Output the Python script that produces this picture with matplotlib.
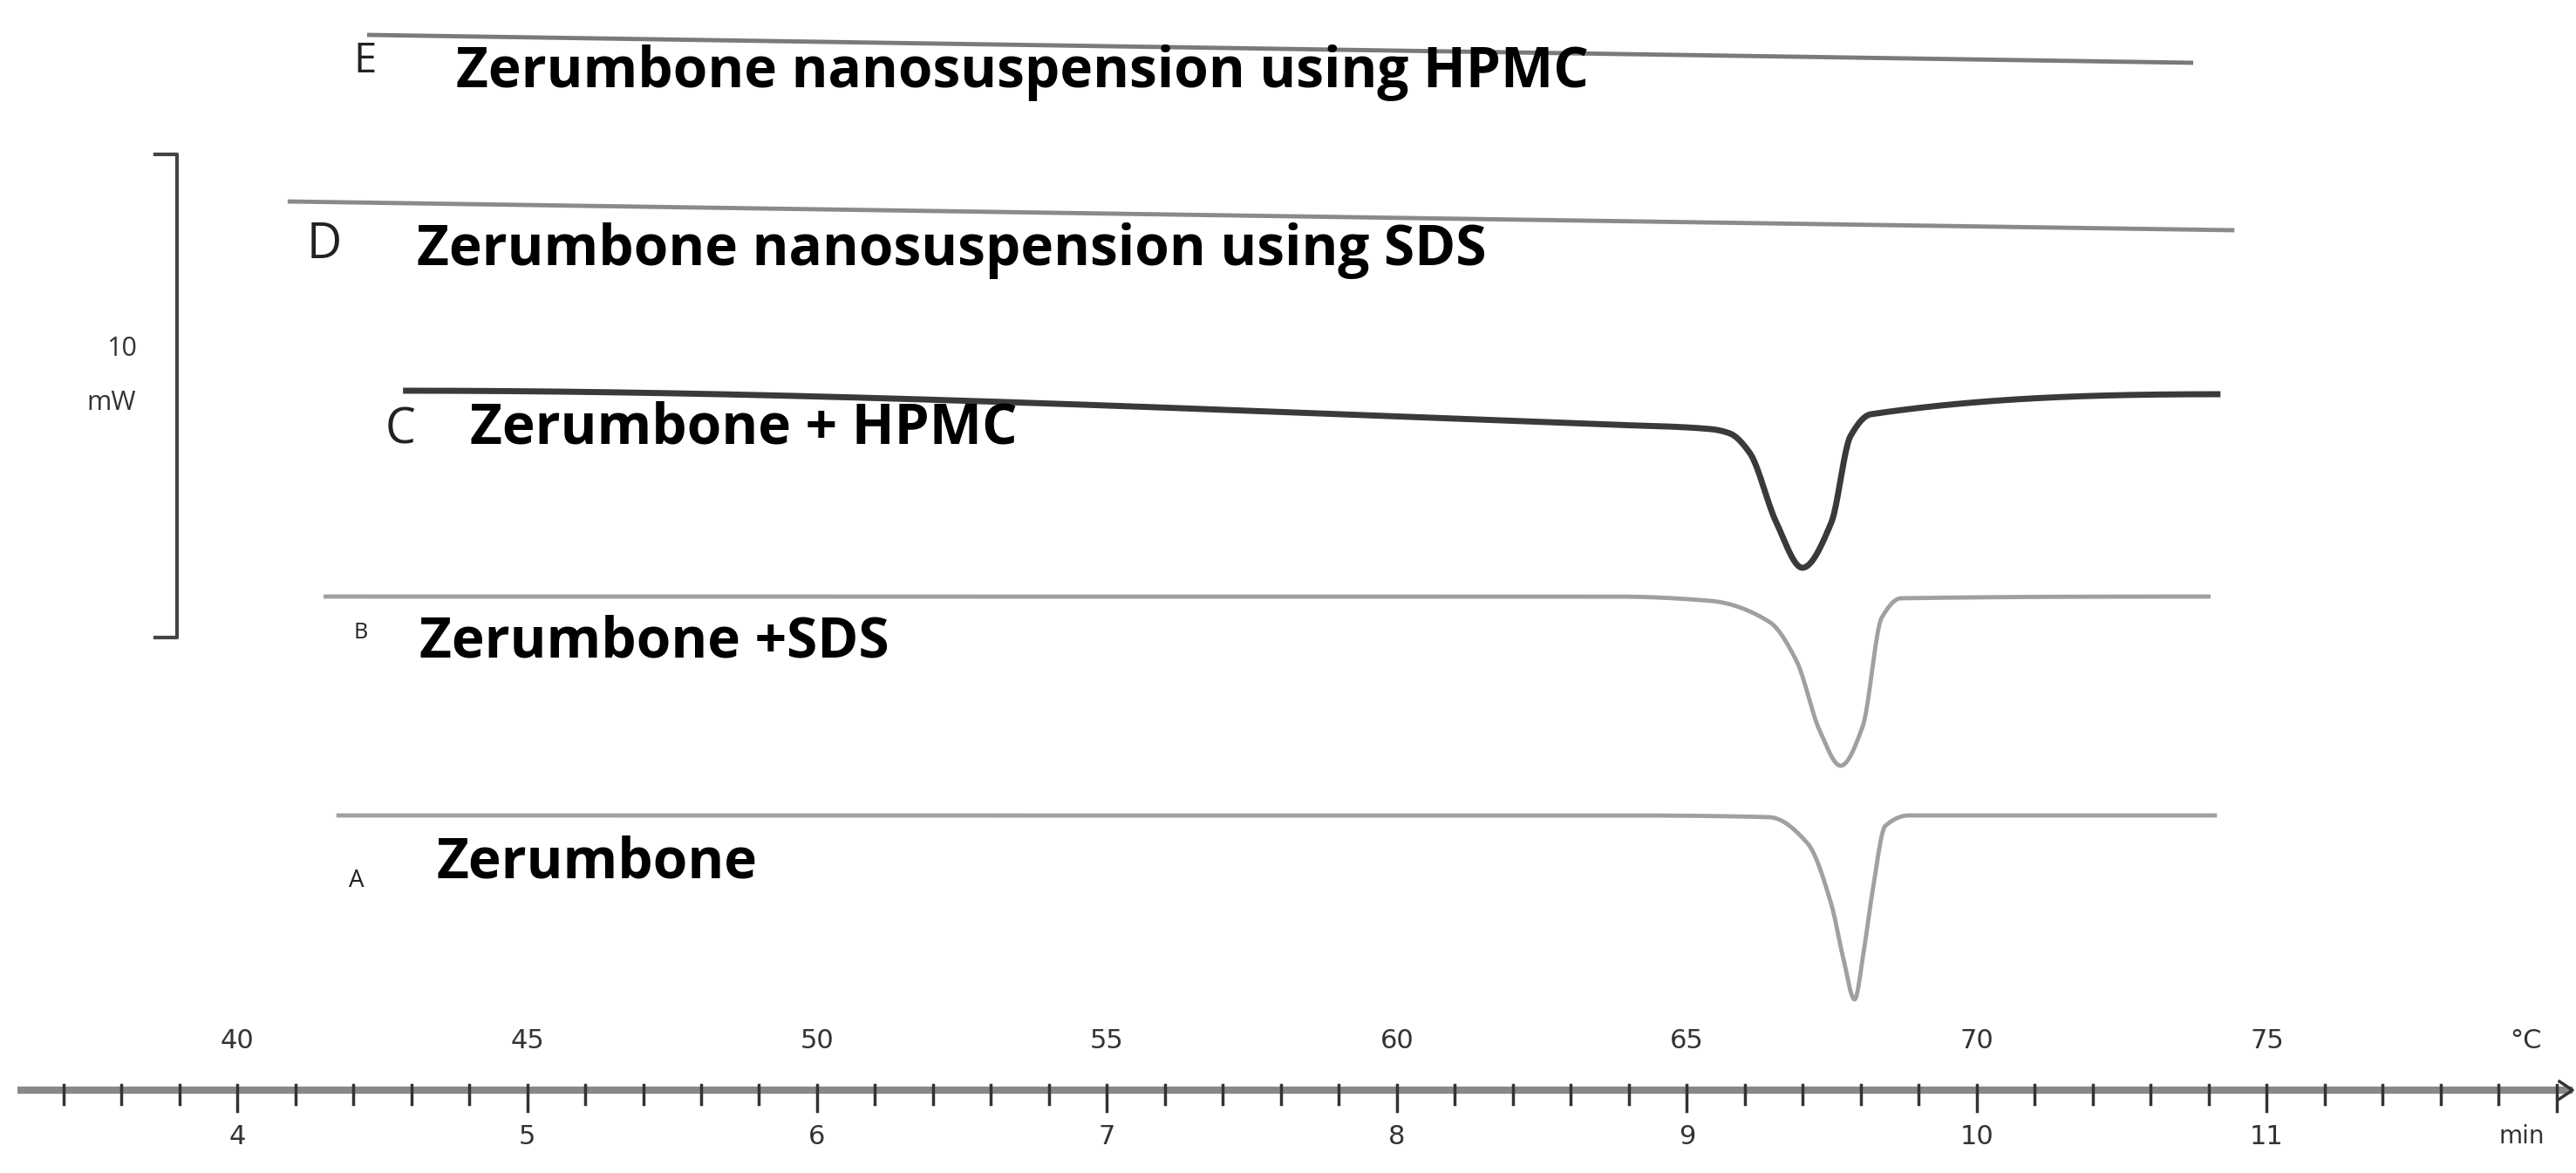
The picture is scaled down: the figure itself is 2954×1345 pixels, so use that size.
import matplotlib
matplotlib.use("Agg")
import matplotlib.pyplot as plt
import numpy as np

# temperature (°C) and trace position (image-like vertical units, downwards = endothermic)
A_T = [41.71, 63.73, 66.42, 67.08, 67.49, 67.70, 67.89, 68.05, 68.20, 68.42, 68.83, 74.14]
A_y = [935, 935, 937, 967, 1037, 1100, 1146, 1090, 1022, 947, 935, 935]
B_T = [41.49, 63.73, 65.41, 66.42, 66.89, 67.29, 67.65, 68.03, 68.36, 68.69, 74.03]
B_y = [684, 684, 689, 713, 758, 838, 878, 833, 708, 686, 684]
C_T = [42.86, 63.73, 65.41, 65.74, 66.08, 66.54, 66.99, 67.49, 67.82, 68.17, 74.20]
C_y = [448, 487, 492, 497, 519, 599, 651, 599, 500, 475, 452]
D_T = [40.87, 74.44]
D_y = [231, 264]
E_T = [42.24, 73.73]
E_y = [40, 72]

temp_labels = [40, 45, 50, 55, 60, 65, 70, 75]
min_labels = [4, 5, 6, 7, 8, 9, 10, 11]

def px2T(x):
    return 40 + (x - 272) / 66.5

fig = plt.figure(figsize=(29.54, 13.45), dpi=100)
ax = fig.add_axes([0, 0, 1, 1])
ax.set_xlim(px2T(0), px2T(2954))
ax.set_ylim(1345, 0)
ax.axis("off")

def pchip(T, y, n=2000):
    x = np.asarray(T, float); y = np.asarray(y, float)
    if len(x) < 3:
        return x, y
    h = np.diff(x); d = np.diff(y) / h
    m = np.zeros_like(y)
    for k in range(1, len(x) - 1):
        if d[k-1] * d[k] > 0:
            w1 = 2*h[k] + h[k-1]; w2 = h[k] + 2*h[k-1]
            m[k] = (w1 + w2) / (w1/d[k-1] + w2/d[k])
    m[0] = 0; m[-1] = 0
    xs = np.linspace(x[0], x[-1], n)
    idx = np.clip(np.searchsorted(x, xs) - 1, 0, len(x) - 2)
    t = (xs - x[idx]) / h[idx]
    h00 = 2*t**3 - 3*t**2 + 1; h10 = t**3 - 2*t**2 + t
    h01 = -2*t**3 + 3*t**2; h11 = t**3 - t**2
    ys = h00*y[idx] + h10*h[idx]*m[idx] + h01*y[idx+1] + h11*h[idx]*m[idx+1]
    return xs, ys

for T, y, c, lw in [(A_T, A_y, "#a0a0a0", 3.5), (B_T, B_y, "#a0a0a0", 3.5),
                    (C_T, C_y, "#3a3a3a", 5), (D_T, D_y, "#8a8a8a", 3.5),
                    (E_T, E_y, "#7a7a7a", 3.5)]:
    xs, ys = pchip(T, y)
    ax.plot(xs, ys, color=c, lw=lw, solid_capstyle="butt")

# labels
fs = 46
bold = dict(fontsize=fs, fontweight="bold", family="Open Sans", va="center", ha="left", color="black")
ax.text(px2T(523), 84, "Zerumbone nanosuspension using HPMC", **bold)
ax.text(px2T(478), 288, "Zerumbone nanosuspension using SDS", **bold)
ax.text(px2T(539), 492, "Zerumbone + HPMC", **bold)
ax.text(px2T(481), 737, "Zerumbone +SDS", **bold)
ax.text(px2T(500), 990, "Zerumbone", **bold)
let = dict(family="Open Sans", va="center", ha="left", color="#222222")
ax.text(px2T(405), 70, "E", fontsize=34, **let)
ax.text(px2T(352), 282, "D", fontsize=40, **let)
ax.text(px2T(442), 494, "C", fontsize=40, **let)
ax.text(px2T(405), 725, "B", fontsize=18, **let)
ax.text(px2T(400), 1010, "A", fontsize=20, **let)

# scale bar
ax.plot([px2T(178), px2T(203), px2T(203), px2T(178)], [177, 177, 731, 731], color="#444444", lw=3)
ax.text(px2T(140), 400, "10", fontsize=22, ha="center", va="center", family="Open Sans", color="#333333")
ax.text(px2T(128), 462, "mW", fontsize=22, ha="center", va="center", family="Open Sans", color="#333333")

# axis
y0 = 1250
ax.plot([px2T(20), px2T(2950)], [y0, y0], color="#888888", lw=6, solid_capstyle="butt")
for t in range(37, 81):
    major = (t % 5 == 0)
    ax.plot([t, t], [y0 - 6, y0 + (24 if major else 16)], color="#333333", lw=2.5)
ax.plot([px2T(2935), px2T(2950), px2T(2935)], [y0 - 10, y0, y0 + 10], color="#333333", lw=2.5)
for t in temp_labels:
    ax.text(t, 1193, str(t), fontsize=22, ha="center", va="center", family="DejaVu Sans", color="#333333")
for i, m in enumerate(min_labels):
    ax.text(temp_labels[i], 1303, str(m), fontsize=22, ha="center", va="center", family="DejaVu Sans", color="#333333")
ax.text(px2T(2896), 1193, "°C", fontsize=22, ha="center", va="center", family="DejaVu Sans", color="#333333")
ax.text(px2T(2892), 1303, "min", fontsize=20, ha="center", va="center", family="DejaVu Sans", color="#333333")

fig.savefig("out.png", dpi=100)
